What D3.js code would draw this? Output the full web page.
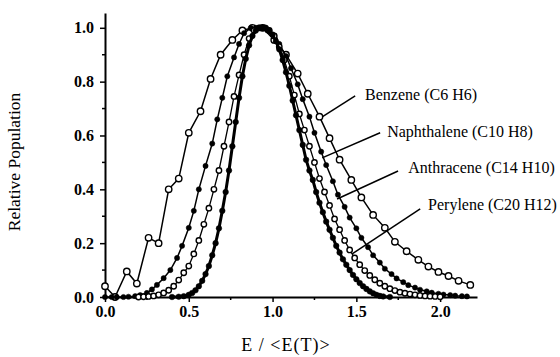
<!DOCTYPE html>
<html>
<head>
<meta charset="utf-8">
<script src="https://cdn.jsdelivr.net/npm/d3@7"></script>
<style>
  body { margin: 0; background: #fff; }
  svg { display: block; }
</style>
</head>
<body>
<svg id="chart" width="560" height="357"></svg>
<script>
// values
const benzeneX = [0.00,0.06,0.13,0.19,0.26,0.32,0.38,0.44,0.50,0.57,0.63,0.69,0.76,0.82,0.88,0.94,1.01,1.08,1.15,1.21,1.28,1.34,1.40,1.47,1.53,1.60,1.67,1.73,1.80,1.87,1.93,1.99,2.05,2.11,2.18];
const benzeneY = [0.04,0.00,0.095,0.05,0.22,0.20,0.40,0.44,0.61,0.69,0.81,0.90,0.955,0.99,1.00,1.00,0.955,0.90,0.83,0.755,0.67,0.59,0.51,0.435,0.37,0.305,0.257,0.205,0.17,0.138,0.113,0.093,0.078,0.06,0.045];

const naphX = [0.00,0.04,0.07,0.11,0.14,0.18,0.21,0.25,0.28,0.31,0.35,0.39,0.43,0.46,0.50,0.53,0.56,0.60,0.64,0.67,0.70,0.73,0.77,0.80,0.83,0.87,0.90,0.94,0.97,1.01,1.04,1.08,1.11,1.15,1.18,1.22,1.25,1.29,1.32,1.36,1.39,1.43,1.46,1.50,1.53,1.57,1.60,1.64,1.67,1.71,1.74,1.78,1.81,1.85,1.88,1.92,1.95,1.99,2.02,2.06,2.09,2.13,2.16];
const naphY = [0.000,0.000,0.000,0.000,0.001,0.003,0.007,0.015,0.028,0.045,0.07,0.10,0.145,0.19,0.257,0.32,0.40,0.487,0.57,0.66,0.74,0.82,0.89,0.94,0.98,1.00,1.00,1.00,0.99,0.97,0.94,0.895,0.85,0.79,0.735,0.67,0.61,0.54,0.49,0.43,0.38,0.335,0.295,0.255,0.22,0.185,0.155,0.128,0.105,0.085,0.069,0.055,0.044,0.035,0.027,0.021,0.016,0.012,0.009,0.007,0.005,0.003,0.002];

const anthX = [0.20,0.23,0.26,0.29,0.32,0.35,0.38,0.41,0.44,0.47,0.50,0.53,0.56,0.59,0.62,0.65,0.68,0.71,0.74,0.77,0.80,0.83,0.86,0.89,0.92,0.95,0.98,1.01,1.04,1.07,1.10,1.13,1.16,1.19,1.22,1.25,1.28,1.31,1.34,1.37,1.40,1.43,1.46,1.49,1.52,1.55,1.58,1.61,1.64,1.67,1.70,1.73,1.76,1.79,1.82,1.85,1.88,1.91,1.94,1.97,2.00];
const anthY = [0.000,0.001,0.002,0.004,0.008,0.015,0.025,0.04,0.063,0.09,0.115,0.16,0.21,0.27,0.33,0.40,0.47,0.56,0.65,0.745,0.825,0.90,0.96,0.99,1.00,1.00,0.99,0.97,0.93,0.88,0.82,0.75,0.68,0.62,0.56,0.50,0.44,0.39,0.34,0.29,0.25,0.21,0.175,0.145,0.12,0.098,0.08,0.064,0.051,0.04,0.031,0.024,0.018,0.014,0.011,0.008,0.006,0.004,0.003,0.002,0.001];

const peryX = [0.40,0.44,0.47,0.50,0.52,0.54,0.56,0.58,0.60,0.62,0.64,0.66,0.68,0.70,0.72,0.74,0.76,0.78,0.80,0.82,0.84,0.86,0.88,0.90,0.92,0.94,0.96,0.98,1.00,1.02,1.04,1.06,1.08,1.10,1.12,1.14,1.16,1.18,1.20,1.22,1.24,1.26,1.28,1.30,1.32,1.34,1.36,1.38,1.40,1.42,1.44,1.46,1.48,1.50,1.52,1.54,1.56,1.58,1.60,1.62,1.64,1.66,1.70];
const peryY = [0.000,0.001,0.003,0.008,0.015,0.025,0.04,0.06,0.085,0.115,0.155,0.20,0.255,0.32,0.39,0.47,0.56,0.65,0.74,0.82,0.885,0.935,0.97,0.99,1.00,1.00,1.00,0.99,0.975,0.95,0.92,0.88,0.835,0.785,0.73,0.675,0.62,0.565,0.51,0.47,0.435,0.39,0.35,0.315,0.28,0.25,0.22,0.19,0.165,0.14,0.12,0.10,0.082,0.066,0.052,0.04,0.03,0.021,0.014,0.008,0.004,0.002,0.000];

// label text, text anchor and leader line (data units)
const labelNames = ["Benzene (C6 H6)", "Naphthalene (C10 H8)", "Anthracene (C14 H10)", "Perylene (C20 H12)"];
const labelAt = [[1.552, 0.732], [1.684, 0.595], [1.809, 0.461], [1.928, 0.323]];
const leaderFrom = [[1.493, 0.747], [1.642, 0.610], [1.749, 0.468], [1.881, 0.327]];
const leaderTo = [[1.296, 0.669], [1.296, 0.517], [1.385, 0.364], [1.475, 0.160]];

const xTicks = [0, 0.5, 1.0, 1.5, 2.0];
const xMinor = [0.25, 0.75, 1.25, 1.75];
const yTicks = [0, 0.2, 0.4, 0.6, 0.8, 1.0];
const yMinor = [0.1, 0.3, 0.5, 0.7, 0.9];

const serif = "'Liberation Serif', 'Times New Roman', Times, 'DejaVu Serif', serif";

const svg = d3.select("#chart");
svg.append("rect").attr("width", 560).attr("height", 357).attr("fill", "#fff");

const x = d3.scaleLinear().domain([0, 2.22]).range([105, 477]);
const y = d3.scaleLinear().domain([0, 1.055]).range([297, 13]);

// axes
const gx = svg.append("g")
    .attr("transform", `translate(0,${y(0)})`)
    .call(d3.axisBottom(x).tickValues(xTicks).tickFormat(d3.format(".1f")).tickSize(5).tickSizeOuter(0).tickPadding(4));
gx.append("g").selectAll("line").data(xMinor).join("line")
    .attr("x1", d => x(d)).attr("x2", d => x(d)).attr("y1", 0).attr("y2", 3)
    .attr("stroke", "#000").attr("stroke-width", 1.5);

const gy = svg.append("g")
    .attr("transform", `translate(${x(0)},0)`)
    .call(d3.axisLeft(y).tickValues(yTicks).tickFormat(d3.format(".1f")).tickSize(5).tickSizeOuter(0).tickPadding(6));
gy.append("g").selectAll("line").data(yMinor).join("line")
    .attr("y1", d => y(d)).attr("y2", d => y(d)).attr("x1", 0).attr("x2", -3)
    .attr("stroke", "#000").attr("stroke-width", 1.5);

svg.selectAll(".domain").attr("stroke", "#000").attr("stroke-width", 2);
svg.selectAll(".tick line").attr("stroke", "#000").attr("stroke-width", 1.5);
svg.selectAll(".tick text")
    .style("font-family", serif)
    .attr("font-size", 16).attr("font-weight", "bold").attr("fill", "#000");

// axis titles
svg.append("text")
    .attr("transform", `translate(20,162) rotate(-90)`)
    .attr("text-anchor", "middle")
    .style("font-family", serif)
    .attr("font-size", 17.5)
    .text("Relative Population");

svg.append("text")
    .attr("x", 286).attr("y", 351)
    .attr("text-anchor", "middle")
    .style("font-family", serif)
    .style("letter-spacing", "1px")
    .attr("font-size", 18)
    .text("E / <E(T)>");

// series
const line = d3.line().x(d => x(d[0])).y(d => y(d[1]));
const series = [
  {xs: benzeneX, ys: benzeneY, open: true, r: 3.2, sw: 1.5},
  {xs: naphX, ys: naphY, open: false, r: 2.6, sw: 1.5},
  {xs: anthX, ys: anthY, open: true, r: 2.7, sw: 1.3},
  {xs: peryX, ys: peryY, open: false, r: 2.8, sw: 3}
];

series.forEach(s => {
  const pts = s.xs.map((v, i) => [v, s.ys[i]]);
  svg.append("path")
      .datum(pts)
      .attr("fill", "none")
      .attr("stroke", "#000")
      .attr("stroke-width", s.sw)
      .attr("d", line);
  svg.append("g").selectAll("circle")
      .data(pts)
      .join("circle")
      .attr("cx", d => x(d[0]))
      .attr("cy", d => y(d[1]))
      .attr("r", s.r)
      .attr("fill", s.open ? "#fff" : "#000")
      .attr("stroke", "#000")
      .attr("stroke-width", s.open ? 1.4 : 0.5);
});

// labels with leader lines
labelNames.forEach((name, i) => {
  svg.append("line")
      .attr("x1", x(leaderFrom[i][0])).attr("y1", y(leaderFrom[i][1]))
      .attr("x2", x(leaderTo[i][0])).attr("y2", y(leaderTo[i][1]))
      .attr("stroke", "#000").attr("stroke-width", 1.5);
  svg.append("text")
      .attr("x", x(labelAt[i][0])).attr("y", y(labelAt[i][1]))
      .style("font-family", serif)
      .attr("font-size", 16)
      .text(name);
});
</script>
</body>
</html>
